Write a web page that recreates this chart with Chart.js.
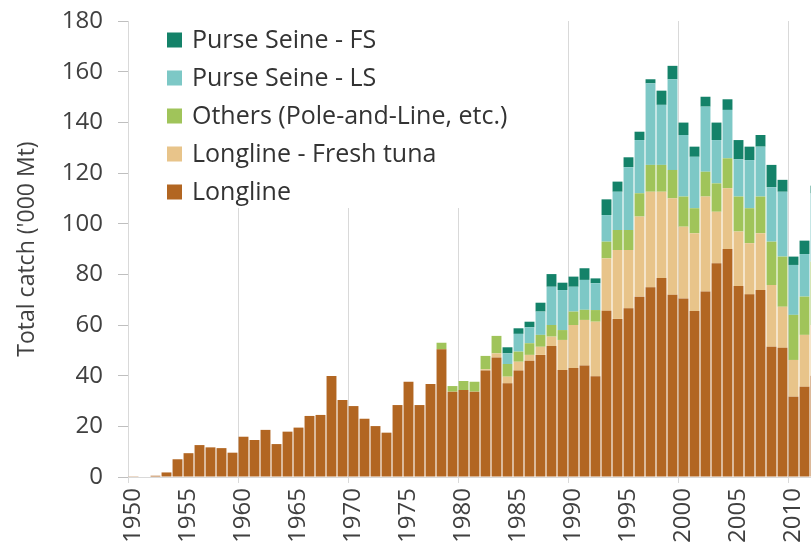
<!DOCTYPE html>
<html>
<head>
<meta charset="utf-8">
<title>Total catch</title>
<script src="https://cdn.jsdelivr.net/npm/chart.js@4.4.1/dist/chart.umd.min.js"></script>
<style>
    html, body {
        margin: 0;
        padding: 0;
        background: #ffffff;
        overflow: hidden;
    }
    #wrap {
        width: 811px;
        height: 551px;
        overflow: hidden;
        position: relative;
    }
    #chart {
        position: absolute;
        left: 0;
        top: 0;
    }
</style>
</head>
<body>
<div id="wrap">
    <canvas id="chart" width="830" height="551"></canvas>
</div>
<script>
const years = [];
for (let y = 1950; y <= 2012; y++) years.push(y);

const longline = [
    0.1, 0.2, 0.5, 1.8, 7.0, 9.4, 12.6, 11.7, 11.4, 9.6,
    15.9, 14.6, 18.6, 13.0, 17.9, 19.5, 24.1, 24.5, 39.9, 30.4,
    28.0, 23.0, 20.1, 17.5, 28.4, 37.6, 28.4, 36.7, 50.4, 33.7,
    34.3, 33.7, 42.0, 47.2, 37.0, 42.0, 45.9, 48.2, 51.7, 42.2,
    43.0, 44.0, 39.8, 65.6, 62.4, 66.6, 71.2, 74.9, 78.6, 71.9,
    70.5, 65.5, 73.2, 84.4, 90.0, 75.4, 72.1, 73.8, 51.4, 51.0,
    31.7, 35.6, 40.0,
];
const longlineFresh = [
    0, 0, 0, 0, 0, 0, 0, 0, 0, 0,
    0, 0, 0, 0, 0, 0, 0, 0, 0, 0,
    0, 0, 0, 0, 0, 0, 0, 0, 0, 0,
    0, 0, 0.5, 1.6, 2.6, 3.5, 2.3, 3.2, 3.7, 11.9,
    17.0, 18.0, 21.5, 20.7, 27.2, 23.0, 31.6, 37.7, 34.0, 38.1,
    28.3, 30.7, 37.5, 20.3, 24.0, 21.5, 20.2, 22.4, 24.4, 16.2,
    14.5, 20.5, 20.0,
];
const others = [
    0, 0, 0, 0, 0, 0, 0, 0, 0, 0,
    0, 0, 0, 0, 0, 0, 0, 0, 0, 0,
    0, 0, 0, 0, 0, 0, 0, 0, 2.6, 2.2,
    3.6, 3.9, 5.3, 6.9, 5.0, 4.0, 4.6, 4.7, 4.6, 3.9,
    5.3, 4.0, 4.6, 6.6, 7.9, 7.9, 9.2, 10.6, 10.6, 11.2,
    11.9, 9.9, 9.8, 11.2, 11.8, 13.8, 13.8, 14.5, 17.1, 19.8,
    17.8, 15.1, 25.0,
];
const purseSeineLS = [
    0, 0, 0, 0, 0, 0, 0, 0, 0, 0,
    0, 0, 0, 0, 0, 0, 0, 0, 0, 0,
    0, 0, 0, 0, 0, 0, 0, 0, 0, 0,
    0, 0, 0, 0, 4.2, 7.0, 6.3, 9.2, 15.1, 15.8,
    9.8, 11.8, 10.6, 10.5, 15.1, 24.8, 21.0, 32.2, 23.7, 35.8,
    24.3, 20.3, 25.7, 17.1, 19.1, 14.7, 19.0, 19.7, 21.5, 25.6,
    19.7, 16.8, 27.0,
];
const purseSeineFS = [
    0, 0, 0, 0, 0, 0, 0, 0, 0, 0,
    0, 0, 0, 0, 0, 0, 0, 0, 0, 0,
    0, 0, 0, 0, 0, 0, 0, 0, 0, 0,
    0, 0, 0, 0, 2.4, 2.2, 2.2, 3.5, 5.0, 2.9,
    4.0, 4.6, 1.9, 6.2, 4.0, 3.9, 3.3, 1.6, 5.6, 5.3,
    4.9, 4.0, 3.9, 6.9, 4.2, 7.6, 5.3, 4.6, 8.8, 4.7,
    3.3, 5.3, 3.0,
];

const seriesNames = [
    "Longline",
    "Longline - Fresh tuna",
    "Others (Pole-and-Line, etc.)",
    "Purse Seine - LS",
    "Purse Seine - FS",
];
const seriesColors = ["#B26622", "#E8C48A", "#A0C45A", "#7DC8C6", "#148269"];
const seriesValues = [longline, longlineFresh, others, purseSeineLS, purseSeineFS];

Chart.defaults.font.family = "'Open Sans', sans-serif";
Chart.defaults.color = "#404040";

// legend sits inside the plot on a white box, top series first
const boxLegend = {
    id: "boxLegend",
    afterDraw: (chart) => {
        const ctx = chart.ctx;
        ctx.save();
        ctx.fillStyle = "#ffffff";
        ctx.fillRect(150, 14, 385, 194);
        ctx.font = "25px 'Open Sans', sans-serif";
        ctx.textBaseline = "middle";
        const items = chart.data.datasets.slice().reverse();
        items.forEach((ds, i) => {
            const cy = 40 + i * 38;
            ctx.fillStyle = ds.backgroundColor;
            ctx.fillRect(167, cy - 7.5, 15, 15);
            ctx.fillStyle = "#333333";
            ctx.fillText(ds.label, 192, cy + 1);
        });
        ctx.restore();
    },
};

const gridGrey = "#d9d9d9";

new Chart(document.getElementById("chart"), {
    type: "bar",
    plugins: [boxLegend],
    data: {
        labels: years,
        datasets: seriesValues.map((vals, i) => ({
            label: seriesNames[i],
            data: vals,
            backgroundColor: seriesColors[i],
            barPercentage: 0.9,
            categoryPercentage: 1,
        })),
    },
    options: {
        responsive: false,
        animation: false,
        layout: { padding: { left: 0, top: 21, right: 9, bottom: 0 } },
        plugins: {
            legend: { display: false },
            tooltip: { enabled: false },
        },
        scales: {
            x: {
                stacked: true,
                afterFit: (scale) => {
                    scale.height = 74;
                    scale.paddingLeft = 0;
                    scale.paddingRight = 0;
                },
                grid: {
                    offset: true,
                    color: (c) => (c.index % 10 === 0 ? gridGrey : "rgba(0,0,0,0)"),
                    tickLength: 6,
                },
                border: { color: gridGrey },
                ticks: {
                    autoSkip: false,
                    minRotation: 90,
                    maxRotation: 90,
                    padding: 5,
                    font: { size: 24 },
                    callback: (v, i) => (years[i] % 5 === 0 ? String(years[i]) : ""),
                },
            },
            y: {
                stacked: true,
                min: 0,
                max: 180,
                afterFit: (scale) => {
                    scale.width = 128;
                    scale.paddingTop = 0;
                    scale.paddingBottom = 0;
                },
                grid: {
                    drawOnChartArea: false,
                    color: "#bfbfbf",
                    tickLength: 10,
                },
                border: { color: gridGrey },
                ticks: {
                    stepSize: 20,
                    padding: 15,
                    font: { size: 24 },
                },
                title: {
                    display: true,
                    text: "Total catch ('000 Mt)",
                    font: { size: 23 },
                    padding: { top: 14, bottom: 0 },
                },
            },
        },
    },
});
</script>
</body>
</html>
